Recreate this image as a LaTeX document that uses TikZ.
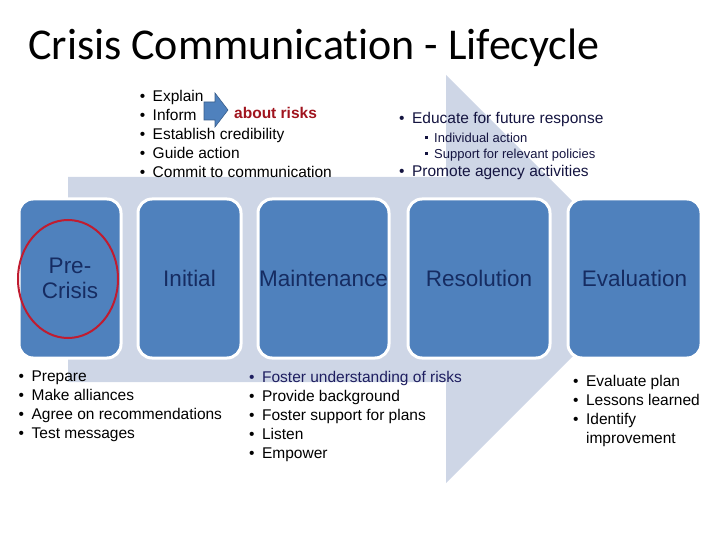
\documentclass[tikz,border=0pt]{standalone}
\usepackage{fontspec}
\setmainfont{Liberation Sans}
\newfontfamily\titlefont[Ligatures={NoCommon}]{Carlito}
\usepackage{tikz}
\usetikzlibrary{positioning}
\definecolor{phasefill}{RGB}{79,129,189}
\definecolor{phaseedge}{RGB}{56,93,138}
\definecolor{arrowfill}{RGB}{206,214,230}
\definecolor{phasetext}{RGB}{22,44,98}
\definecolor{ringred}{RGB}{192,28,48}
\definecolor{riskred}{RGB}{160,20,30}
\definecolor{listnavy}{RGB}{20,20,64}
\definecolor{fosternavy}{RGB}{30,30,96}
\newcommand{\bul}{\textbullet}
\newcommand{\subbul}{\raisebox{0.25em}{\rule{3pt}{3pt}}}
\tikzset{
    phase/.style={rectangle,rounded corners=14pt,draw=white,line width=3pt,fill=phasefill,
        text=phasetext,minimum height=159pt,inner sep=0pt,align=center,
        font=\fontsize{22.5}{25}\selectfont},
    itemlist/.style={anchor=base west,inner sep=0pt,font=\fontsize{15.5}{19}\selectfont},
    sublist/.style={anchor=base west,inner sep=0pt,font=\fontsize{13}{16}\selectfont},
    ring/.style={draw=ringred,line width=2pt},
}

\begin{document}
\begin{tikzpicture}[x=1pt,y=-1pt]
        \useasboundingbox (0,0) rectangle (720,540);

        % big background arrow
        \fill[arrowfill] (68,177) -- (446,177) -- (446,75) -- (650,279)
            -- (446,483) -- (446,382) -- (68,382) -- cycle;

        \node[anchor=base west,inner sep=0pt,font=\titlefont\fontsize{44}{50}\selectfont]
            (title) at (28,60) {Crisis Communication - Lifecycle};

        \node[phase,minimum width=102pt] (pre) at (70,278.5) {Pre-\\Crisis};
        \node[phase,minimum width=103pt] (initial) at (189.5,278.5) {Initial};
        \node[phase,minimum width=131pt] (maint) at (323.5,278.5) {Maintenance};
        \node[phase,minimum width=142pt] (resol) at (479,278.5) {Resolution};
        \node[phase,minimum width=133pt] (eval) at (634.5,278.5) {Evaluation};

        \draw[ring] (68,279) ellipse [x radius=50, y radius=59];

        \node[itemlist] (initlist) at (139.6,101.7) {\begin{tabular}[t]{@{}l@{\hspace{7.5pt}}l@{}}
            \bul & Explain\\ \bul & Inform\\ \bul & Establish credibility\\
            \bul & Guide action\\ \bul & Commit to communication\end{tabular}};
        \fill[phasefill,draw=phaseedge,line width=0.6pt] (204,102) -- (215,102) -- (215,93)
            -- (228,110) -- (215,127) -- (215,120) -- (204,120) -- cycle;
        \node[itemlist,font=\fontsize{15.5}{19}\selectfont\bfseries,text=riskred]
            (risks) at (234,118.3) {about risks};

        \node[itemlist,text=listnavy] (educate) at (399,124) {\bul\hspace{7.5pt}Educate for future response};
        \node[sublist,text=listnavy] (subacts) at (424.5,142.3) {\begin{tabular}[t]{@{}l@{\hspace{6.5pt}}l@{}}
            \subbul & Individual action\\ \subbul & Support for relevant policies\end{tabular}};
        \node[itemlist,text=listnavy] (promote) at (399,176.7) {\bul\hspace{7.5pt}Promote agency activities};

        \node[itemlist] (prelist) at (18.5,381) {\begin{tabular}[t]{@{}l@{\hspace{7.5pt}}l@{}}
            \bul & Prepare\\ \bul & Make alliances\\ \bul & Agree on recommendations\\
            \bul & Test messages\end{tabular}};
        \node[itemlist] (maintlist) at (249,382) {\begin{tabular}[t]{@{}l@{\hspace{7.5pt}}l@{}}
            \textcolor{fosternavy}{\bul} & \textcolor{fosternavy}{Foster understanding of risks}\\
            \bul & Provide background\\ \bul & Foster support for plans\\
            \bul & Listen\\ \bul & Empower\end{tabular}};
        \node[itemlist] (evallist) at (573,386) {\begin{tabular}[t]{@{}l@{\hspace{7.5pt}}l@{}}
            \bul & Evaluate plan\\ \bul & Lessons learned\\ \bul & Identify\\
            & improvement\end{tabular}};
\end{tikzpicture}
\end{document}
